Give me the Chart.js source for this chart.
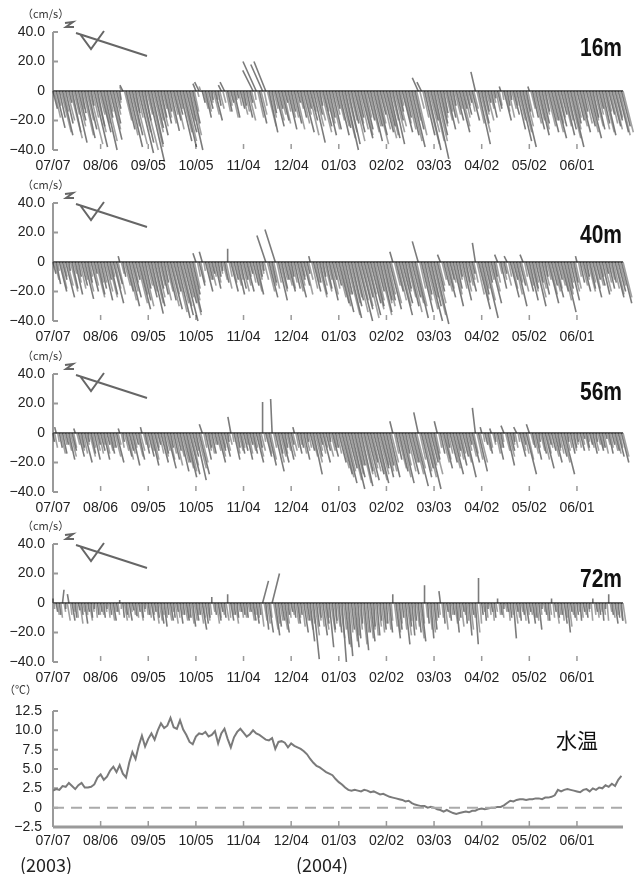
<!DOCTYPE html>
<html>
<head>
<meta charset="utf-8">
<title>流速・水温</title>
<script src="https://cdn.jsdelivr.net/npm/chart.js@4"></script>
<style>
  body { margin: 0; background: #fff; }
  #wrap { position: relative; width: 640px; height: 874px; overflow: hidden; font-family: "Liberation Sans", Arial, sans-serif; color: #222; }
  canvas { position: absolute; left: 0; }
  .unit { position: absolute; left: 22px; font-family: "Noto Sans CJK JP", sans-serif; font-size: 11px; color: #333; }
  .depth { position: absolute; right: 18px; font-size: 25px; font-weight: bold; color: #111; transform: scaleX(0.84); transform-origin: right center; }
  .year { position: absolute; top: 851px; font-family: "Noto Sans CJK JP", sans-serif; font-size: 18px; color: #222; }
</style>
</head>
<body>
<div id="wrap">
  <canvas id="c16" width="640" height="172" style="top:0px"></canvas>
  <canvas id="c40" width="640" height="172" style="top:171px"></canvas>
  <canvas id="c56" width="640" height="172" style="top:342px"></canvas>
  <canvas id="c72" width="640" height="172" style="top:512px"></canvas>
  <canvas id="cT" width="640" height="185" style="top:680px"></canvas>

  <div class="unit" style="top:5px">（cm/s）</div>
  <div class="unit" style="top:176px">（cm/s）</div>
  <div class="unit" style="top:347px">（cm/s）</div>
  <div class="unit" style="top:517px">（cm/s）</div>
  <div class="unit" style="top:681px;left:4px">（℃）</div>

  <div class="depth" style="top:33px">16m</div>
  <div class="depth" style="top:220px">40m</div>
  <div class="depth" style="top:377px">56m</div>
  <div class="depth" style="top:564px">72m</div>
  <div style="position:absolute;left:556px;top:724px;font-family:'Noto Sans CJK JP',sans-serif;font-size:21px;color:#111">水温</div>

  <div class="year" style="left:20px">(2003)</div>
  <div class="year" style="left:296px">(2004)</div>
</div>

<script>
// x軸: 2003/07/07 からの日数
const tickDays = [0, 30, 60, 90, 120, 150, 180, 210, 240, 270, 300, 330];
const tickLabels = ['07/07', '08/06', '09/05', '10/05', '11/04', '12/04', '01/03', '02/02', '03/03', '04/02', '05/02', '06/01'];
const sampleStep = 2; // 各配列は2日おき、*Odd は1日ずらした日

// 16m 流速 (cm/s)  u:横成分 v:縦成分
const u16 = [3,6,4,7,5,2,6,8,5,3,7,6,2,9,5,
  7,9,4,8,5,3,1,-2,6,9,7,3,10,8,4,
  11,8,6,7,4,5,3,6,5,4,8,9,7,9,5,
  -2,-3,2,4,3,1,5,2,-2,-3,3,2,4,1,3,
  2,4,2,-7,-9,5,-8,-8,6,3,6,3,5,2,6,
  3,5,2,4,7,3,5,8,4,2,6,7,4,6,3,
  7,6,9,8,5,7,4,8,6,5,8,6,7,4,7,
  6,7,8,5,3,7,4,7,9,6,-4,-3,7,9,5,
  10,7,5,3,6,4,2,5,7,3,4,2,5,-3,8,
  5,3,2,4,1,3,-1,5,2,1,4,6,8,9,3,
  -1,4,6,7,5,3,7,5,8,6,4,7,6,9,5,
  5,7,3,6,8,4,6,3,5,7,4,6,5,7,6];
const v16 = [-12,-25,-18,-30,-22,-8,-28,-35,-20,-15,-32,-26,-10,-38,-24,
  -28,-40,-18,-33,-22,-12,-6,4,-26,-38,-30,-15,-42,-35,-20,
  -48,-36,-25,-30,-18,-22,-14,-27,-20,-16,-34,-38,-28,-40,-22,
  5,6,-8,-18,-12,-6,-20,-10,4,6,-14,-8,-18,-5,-12,
  -10,-18,-8,14,20,-22,18,20,-28,-15,-24,-12,-20,-8,-26,
  -14,-22,-8,-18,-28,-12,-20,-35,-16,-10,-24,-30,-18,-26,-12,
  -30,-25,-40,-36,-22,-28,-18,-32,-26,-20,-34,-24,-30,-16,-28,
  -24,-32,-36,-20,-14,-28,-18,-30,-38,-26,9,6,-30,-40,-20,
  -46,-30,-22,-15,-26,-18,-10,-20,-28,-12,-16,-8,-20,13,-36,
  -22,-14,-8,-18,-5,-12,3,-20,-10,-6,-16,-26,-34,-38,-14,
  3,-18,-26,-30,-22,-14,-28,-20,-32,-24,-16,-30,-26,-38,-22,
  -20,-28,-14,-24,-32,-18,-26,-12,-22,-30,-16,-24,-20,-28,-24];
const u16Odd = [4,2,7,3,5,8,4,6,3,7,5,9,4,7,4,
  5,8,3,6,4,2,-1,5,7,6,9,4,7,10,4,
  9,7,5,6,3,4,5,4,6,3,7,8,5,7,3,
  1,-1,3,3,2,4,1,3,2,3,2,4,1,2,4,
  3,5,3,1,4,4,2,6,4,3,5,4,5,3,4,
  4,6,3,5,4,7,3,6,5,7,3,5,6,4,5,
  6,8,7,5,8,5,6,7,4,7,6,9,5,6,8,
  7,5,7,6,2,5,6,8,5,7,3,4,9,7,8,
  8,6,4,5,3,5,4,3,6,4,2,3,3,5,7,
  4,5,3,2,3,2,1,3,4,3,2,5,7,6,4,
  3,5,5,6,4,6,5,7,5,4,6,5,8,6,4,
  6,4,5,7,5,6,4,6,7,3,5,6,4,7,7];
const v16Odd = [-18,-10,-28,-14,-20,-32,-16,-24,-12,-30,-20,-36,-18,-28,-16,
  -22,-34,-14,-26,-16,-8,3,-20,-30,-24,-36,-18,-28,-40,-16,
  -38,-28,-20,-24,-12,-18,-22,-16,-26,-12,-28,-34,-20,-30,-14,
  -4,3,-12,-14,-8,-16,-6,-12,-8,-14,-10,-18,-6,-10,-16,
  -14,-20,-12,-6,-18,-16,-10,-24,-18,-12,-20,-16,-22,-14,-18,
  -18,-26,-12,-22,-16,-30,-14,-24,-20,-28,-14,-22,-26,-16,-20,
  -24,-32,-28,-20,-34,-22,-26,-30,-18,-28,-24,-36,-22,-26,-32,
  -30,-20,-28,-24,-10,-22,-26,-34,-20,-30,-12,-18,-36,-28,-34,
  -34,-24,-18,-20,-14,-22,-16,-12,-24,-18,-10,-14,-12,-22,-28,
  -16,-20,-12,-8,-14,-10,-6,-14,-18,-12,-10,-20,-28,-24,-18,
  -12,-22,-20,-26,-16,-24,-20,-28,-22,-18,-24,-20,-32,-26,-18,
  -24,-18,-22,-28,-20,-24,-16,-26,-28,-14,-22,-26,-18,-30,-28];

// 40m
const u40 = [2,3,5,3,6,1,4,5,2,4,6,3,5,2,5,
  4,6,3,5,7,4,-1,2,5,7,6,3,8,6,4,
  6,8,7,4,5,3,6,8,5,9,9,10,7,8,5,
  -2,4,-2,5,3,2,4,2,1,3,0,5,3,5,4,
  3,5,2,4,5,2,1,-6,6,3,-7,6,4,3,5,
  2,4,6,3,4,2,-1,5,3,5,2,4,6,3,4,
  7,8,5,9,7,6,10,8,6,9,7,7,5,8,6,
  6,8,-2,5,9,7,4,7,6,9,-4,8,5,10,7,
  10,5,-2,4,6,3,7,4,2,6,3,5,2,-2,8,
  5,9,3,7,2,-2,4,2,-2,6,3,7,4,-2,5,
  6,4,7,3,5,2,7,4,6,3,5,8,4,6,3,
  -1,3,5,2,4,6,3,4,5,2,4,3,6,5,7];
const v40 = [-8,-15,-20,-12,-24,-6,-18,-22,-10,-16,-25,-14,-20,-8,-22,
  -18,-26,-12,-22,-28,-15,4,-10,-20,-30,-24,-12,-32,-26,-18,
  -24,-35,-30,-18,-22,-14,-26,-32,-20,-38,-36,-40,-28,-34,-22,
  6,-16,7,-20,-12,-8,-18,-10,-6,-14,9,-20,-12,-22,-18,
  -12,-20,-8,-16,-22,-10,-6,18,-24,-14,22,-26,-18,-12,-20,
  -10,-18,-24,-12,-16,-8,4,-20,-14,-22,-10,-18,-26,-12,-16,
  -28,-34,-22,-38,-30,-26,-40,-32,-24,-36,-28,-30,-20,-34,-26,
  -26,-32,7,-20,-36,-28,-18,-30,-24,-38,14,-34,-22,-40,-30,
  -42,-20,5,-16,-24,-12,-30,-18,-10,-26,-14,-20,-8,13,-32,
  -22,-38,-14,-28,-10,5,-18,-8,4,-24,-12,-30,-16,5,-20,
  -26,-18,-30,-14,-22,-10,-28,-16,-24,-12,-20,-34,-18,-26,-14,
  4,-14,-20,-10,-18,-24,-12,-16,-22,-8,-18,-14,-24,-20,-28];
const u40Odd = [3,1,4,2,4,5,2,3,4,3,5,2,4,6,3,
  3,5,6,2,4,5,2,4,6,5,3,7,5,7,4,
  5,7,6,4,6,5,7,5,8,7,7,6,9,6,4,
  2,3,1,3,4,2,3,2,3,4,2,3,4,3,5,
  4,2,3,5,3,2,3,5,4,4,3,5,3,4,4,
  3,5,4,2,5,3,4,3,6,4,5,3,5,4,6,
  7,5,9,7,6,8,6,7,9,5,8,6,9,7,7,
  5,7,4,6,7,5,6,8,7,7,4,6,8,6,9,
  7,4,3,5,4,3,5,3,4,5,4,3,3,5,6,
  4,6,3,5,3,2,3,4,2,4,5,3,5,2,4,
  5,3,6,4,4,3,5,5,4,4,6,5,3,5,4,
  2,4,3,5,3,4,4,2,5,3,3,4,5,4,6];
const v40Odd = [-12,-6,-18,-10,-16,-20,-8,-14,-18,-12,-20,-10,-16,-24,-14,
  -14,-20,-24,-10,-18,-22,-8,-16,-26,-20,-14,-28,-22,-30,-16,
  -20,-28,-24,-16,-26,-20,-30,-22,-34,-28,-30,-24,-36,-26,-18,
  -10,-14,-6,-12,-16,-10,-14,-8,-12,-18,-10,-14,-16,-12,-20,
  -16,-10,-14,-20,-12,-8,-12,-20,-16,-18,-14,-20,-12,-16,-18,
  -14,-20,-16,-10,-22,-12,-18,-14,-24,-16,-20,-12,-22,-18,-24,
  -30,-22,-36,-28,-24,-34,-26,-30,-38,-22,-32,-26,-36,-28,-30,
  -22,-28,-16,-26,-30,-20,-24,-34,-28,-30,-18,-26,-32,-24,-36,
  -28,-16,-12,-20,-18,-14,-22,-12,-18,-20,-16,-12,-14,-22,-26,
  -18,-26,-12,-20,-14,-8,-12,-16,-10,-18,-22,-14,-20,-10,-16,
  -20,-14,-24,-18,-16,-12,-22,-20,-18,-16,-26,-22,-14,-20,-18,
  -10,-16,-12,-20,-14,-18,-16,-10,-20,-14,-12,-18,-22,-16,-24];

// 56m
const u56 = [1,-1,2,3,2,4,3,-1,4,2,5,1,3,4,2,
  3,4,2,3,2,5,-1,1,4,3,5,2,4,-1,3,
  4,5,3,2,5,3,6,2,4,3,6,5,7,7,4,
  7,7,-2,4,2,3,2,5,3,4,1,-2,4,2,3,
  3,4,2,3,5,2,0,4,5,-1,6,3,5,2,4,
  2,-1,3,2,4,1,3,6,4,2,5,3,1,4,2,
  5,7,8,6,9,7,5,8,6,8,5,7,8,6,7,
  5,7,-2,4,6,8,3,7,5,9,-3,7,6,9,5,
  4,-2,3,6,2,5,7,3,5,4,7,2,5,-2,6,
  -1,2,3,-1,1,4,2,-2,5,3,1,-2,4,2,7,
  -2,2,4,1,3,6,2,3,5,2,4,7,1,3,2,
  1,3,1,2,2,3,1,3,2,1,3,2,3,4,5];
const v56 = [-6,4,-10,-14,-8,-18,-12,3,-16,-10,-20,-6,-14,-18,-8,
  -12,-18,-8,-14,-10,-20,3,-6,-16,-12,-22,-8,-18,4,-14,
  -16,-22,-12,-8,-20,-14,-24,-10,-18,-12,-26,-20,-30,-28,-16,
  -32,-28,6,-18,-10,-14,-8,-20,-12,-16,-6,11,-18,-10,-14,
  -12,-18,-8,-14,-20,-10,21,-16,-22,23,-26,-14,-20,-10,-18,
  -8,4,-14,-10,-18,-6,-12,-28,-16,-8,-20,-12,-6,-16,-10,
  -20,-28,-34,-24,-38,-30,-22,-36,-26,-32,-20,-28,-34,-24,-30,
  -22,-30,8,-18,-26,-34,-14,-28,-20,-36,14,-30,-24,-38,-20,
  -18,8,-14,-24,-10,-20,-28,-12,-22,-16,-30,-8,-20,17,-26,
  4,-8,-14,3,-6,-18,-10,5,-22,-12,-6,4,-16,-8,-28,
  6,-10,-18,-6,-14,-24,-8,-12,-20,-10,-16,-28,-6,-14,-10,
  -6,-12,-4,-10,-8,-14,-6,-12,-10,-4,-14,-8,-12,-16,-20];
const u56Odd = [2,1,3,2,3,4,2,2,3,3,2,4,2,3,3,
  2,3,3,2,4,2,2,3,4,3,2,4,3,2,2,
  3,4,2,3,4,3,4,3,5,4,5,6,6,5,3,
  6,5,2,3,3,2,3,4,2,3,2,1,3,3,2,
  2,3,3,2,4,3,1,3,4,2,5,4,3,3,4,
  3,2,2,3,3,2,4,5,3,3,2,4,3,2,3,
  6,7,6,8,7,5,8,7,7,6,6,8,7,5,6,
  6,5,3,6,7,5,6,5,7,6,4,6,7,5,7,
  3,2,5,4,3,6,4,4,3,5,3,4,3,4,5,
  1,3,2,2,3,2,1,3,4,2,2,1,3,3,4,
  2,3,2,3,4,3,2,4,3,3,5,3,2,3,2,
  2,2,3,1,2,3,2,2,3,2,2,3,3,2,4];
const v56Odd = [-10,-6,-14,-8,-12,-16,-10,-8,-12,-14,-8,-16,-10,-12,-14,
  -8,-14,-12,-10,-16,-8,-10,-12,-18,-14,-10,-16,-12,-8,-10,
  -12,-18,-10,-14,-16,-12,-18,-14,-22,-16,-20,-24,-26,-22,-12,
  -24,-20,-10,-12,-14,-8,-12,-16,-10,-12,-8,-6,-14,-12,-10,
  -8,-14,-12,-10,-16,-12,-6,-14,-18,-10,-20,-16,-14,-12,-16,
  -12,-10,-8,-14,-12,-10,-16,-20,-12,-14,-10,-16,-12,-10,-14,
  -24,-30,-26,-32,-28,-22,-34,-28,-30,-24,-26,-32,-28,-22,-26,
  -26,-20,-14,-24,-30,-22,-26,-20,-28,-24,-18,-26,-30,-22,-28,
  -14,-10,-20,-18,-14,-24,-16,-18,-14,-20,-12,-16,-14,-18,-20,
  -6,-12,-10,-8,-14,-10,-6,-12,-16,-8,-10,-6,-12,-14,-18,
  -8,-14,-10,-12,-18,-14,-10,-16,-12,-14,-20,-12,-10,-12,-8,
  -10,-8,-12,-6,-10,-12,-8,-10,-14,-8,-10,-12,-14,-10,-16];

// 72m
const u72 = [0,1,1,1,0,-1,2,1,1,1,2,1,1,0,1,
  1,1,0,1,2,1,0,1,1,2,1,1,1,1,0,
  1,2,1,1,2,2,1,2,1,1,2,1,2,1,2,
  2,1,3,2,1,0,1,2,1,1,0,2,1,1,1,
  1,1,1,2,2,1,4,2,3,5,3,2,2,3,1,
  1,1,2,1,3,2,3,4,2,1,3,2,3,2,1,
  2,3,3,3,2,3,2,1,3,2,3,1,2,1,2,
  1,2,0,3,2,1,3,2,2,1,2,3,0,1,2,
  2,1,-1,1,1,1,1,2,1,1,1,2,1,2,0,
  1,1,0,1,1,0,1,0,1,1,2,1,1,1,2,
  1,2,1,2,0,1,1,0,1,1,1,2,2,1,1,
  1,1,1,1,0,0,1,1,1,0,0,1,2,1,1];
const v72 = [3,-6,-8,9,-4,6,-12,-10,-5,-8,-14,-6,-10,-4,-8,
  -6,-10,-4,-8,-12,-6,2,-10,-8,-12,-5,-9,-6,-10,-4,
  -8,-12,-6,-10,-14,-16,-8,-12,-10,-6,-14,-8,-12,-10,-16,
  -12,-8,-18,-14,-10,4,-8,-12,-6,-10,6,-12,-8,-10,-6,
  -8,-10,-6,-12,-14,-8,15,-18,-20,20,-22,-16,-12,-20,-8,
  -6,-10,-14,-8,-20,-12,-26,-38,-16,-10,-22,-14,-30,-18,-12,
  -20,-40,-28,-36,-18,-30,-24,-14,-32,-20,-26,-16,-22,-12,-18,
  -14,-20,6,-24,-18,-10,-28,-16,-22,-12,-20,-26,12,-14,-24,
  -18,-10,8,-14,-6,-12,-8,-20,-10,-6,-14,-22,-8,-28,17,
  -8,-12,-4,-6,-10,3,-8,-4,-6,-10,-24,-6,-12,-8,-14,
  -6,-14,-10,-18,-4,-8,-12,3,-6,-10,-8,-14,-20,-6,-10,
  -8,-12,-6,-10,-4,3,-6,-8,-12,-4,6,-8,-14,-10,-12];
const u72Odd = [0,1,1,1,2,1,1,1,2,1,1,2,1,1,1,
  1,1,1,2,1,1,0,2,1,1,1,1,2,1,1,
  1,1,2,2,1,1,2,1,2,1,1,2,1,2,2,
  1,2,1,2,1,1,2,1,1,2,1,1,2,1,1,
  1,1,2,1,1,2,2,2,1,3,2,2,3,2,1,
  1,2,1,2,2,3,2,3,2,2,3,1,3,2,2,
  3,2,3,2,3,2,2,3,2,3,2,2,2,2,1,
  2,1,2,2,1,2,3,1,2,2,3,1,1,2,2,
  1,1,1,2,1,1,2,1,2,1,1,2,1,2,1,
  1,1,1,1,1,1,1,1,1,1,2,1,1,1,1,
  1,1,1,1,1,1,1,1,2,1,1,1,2,1,1,
  1,1,1,1,1,1,1,1,1,1,1,1,1,2,2];
const v72Odd = [-4,-8,-10,-6,-12,-8,-6,-10,-14,-6,-8,-12,-6,-10,-8,
  -8,-6,-10,-12,-6,-8,-4,-12,-10,-6,-8,-10,-12,-6,-8,
  -10,-8,-14,-12,-8,-10,-12,-6,-14,-10,-8,-12,-10,-14,-12,
  -8,-14,-10,-12,-8,-6,-14,-10,-8,-12,-10,-8,-14,-6,-10,
  -10,-6,-12,-8,-10,-16,-12,-14,-10,-18,-14,-12,-18,-14,-10,
  -8,-14,-10,-16,-12,-18,-14,-22,-12,-16,-18,-10,-20,-14,-16,
  -24,-18,-30,-20,-26,-22,-18,-28,-20,-24,-18,-22,-16,-20,-14,
  -18,-12,-16,-20,-14,-18,-22,-12,-18,-16,-24,-14,-10,-18,-20,
  -12,-8,-10,-18,-10,-8,-14,-12,-16,-8,-12,-18,-10,-20,-14,
  -6,-10,-8,-12,-6,-8,-10,-6,-12,-8,-14,-10,-6,-12,-8,
  -8,-10,-12,-8,-6,-12,-8,-10,-14,-8,-12,-10,-16,-8,-12,
  -6,-10,-8,-6,-12,-8,-10,-6,-8,-12,-6,-10,-8,-12,-14];

// 水温 (℃)
const waterTemp = [2.2,2.4,2.3,2.8,2.7,3.2,2.8,2.4,2.9,3.2,2.6,2.6,2.7,3.0,3.9,
  4.3,3.6,4.0,4.8,5.3,4.6,5.5,4.4,3.9,5.8,7.2,6.3,8.0,9.3,7.9,
  8.9,9.6,8.8,10.0,10.9,10.3,10.6,11.6,10.4,10.2,11.3,10.1,9.4,8.5,8.2,
  9.2,9.6,9.5,9.8,9.2,9.4,9.9,8.3,9.6,10.2,8.9,7.8,9.1,9.8,10.2,
  9.7,9.2,9.5,10.0,9.6,9.4,9.1,8.8,8.7,9.0,7.6,8.5,8.6,8.4,7.8,
  8.3,8.0,7.8,7.6,7.3,6.9,6.3,5.8,5.4,5.2,4.9,4.6,4.4,4.2,3.7,
  3.3,3.0,2.6,2.3,2.2,2.3,2.2,2.1,2.3,2.2,2.0,2.1,1.9,1.7,1.8,
  1.6,1.4,1.3,1.2,1.1,1.0,0.8,0.9,0.6,0.4,0.3,0.2,0.2,0.0,0.1,
  0.0,-0.2,-0.3,-0.5,-0.3,-0.5,-0.7,-0.8,-0.7,-0.6,-0.5,-0.6,-0.4,-0.4,-0.2,
  -0.1,-0.2,-0.1,0.0,0.0,0.1,0.1,0.3,0.6,0.9,0.8,1.0,1.1,1.1,1.0,
  1.1,1.1,1.2,1.2,1.1,1.3,1.3,1.4,1.6,2.3,2.1,2.3,2.4,2.3,2.2,
  2.1,2.0,2.3,2.4,2.1,2.5,2.3,2.6,2.5,2.9,2.7,3.1,2.8,3.6,4.1];

const X_MAX = 359;
const FONT = "'Liberation Sans', Arial, sans-serif";
const AXIS_GRAY = '#9a9a9a';

// 軸線・目盛り(内向き)・北向き記号
const axisDecor = {
  id: 'axisDecor',
  beforeDatasetsDraw(chart, args, opts) {
    const { ctx, chartArea: a, scales: { x, y } } = chart;
    ctx.save();
    ctx.strokeStyle = AXIS_GRAY;
    ctx.lineWidth = 2;
    ctx.beginPath();
    ctx.moveTo(a.left, a.top);
    ctx.lineTo(a.left, a.bottom);
    y.ticks.forEach(t => {
      const py = y.getPixelForValue(t.value);
      ctx.moveTo(a.left, py);
      ctx.lineTo(a.left + 5, py);
    });
    ctx.stroke();
    if (opts.bottomLine) {
      ctx.lineWidth = 3;
      ctx.beginPath();
      ctx.moveTo(a.left, a.bottom);
      ctx.lineTo(a.right, a.bottom);
      ctx.stroke();
    }
    ctx.lineWidth = 1.5;
    ctx.beginPath();
    x.ticks.forEach(t => {
      if (t.value === 0) return;
      const px = x.getPixelForValue(t.value);
      ctx.moveTo(px, a.bottom - 6);
      ctx.lineTo(px, a.bottom - 1);
    });
    ctx.stroke();
    ctx.restore();
  },
  afterDraw(chart, args, opts) {
    if (!opts.north) return;
    const { ctx, chartArea: a } = chart;
    const L = a.left, T = a.top;
    ctx.save();
    ctx.strokeStyle = '#666';
    ctx.lineWidth = 2;
    ctx.beginPath();
    ctx.moveTo(L + 12, T - 9); ctx.lineTo(L + 20, T - 10);
    ctx.lineTo(L + 13, T - 5); ctx.lineTo(L + 21, T - 5);
    ctx.moveTo(L + 23, T + 1); ctx.lineTo(L + 94, T + 24);
    ctx.moveTo(L + 27, T + 2); ctx.lineTo(L + 38, T + 17); ctx.lineTo(L + 51, T - 1);
    ctx.stroke();
    ctx.restore();
  }
};

function xScale(height, pad) {
  return {
    type: 'linear', min: 0, max: X_MAX,
    grid: { display: false, drawTicks: false },
    border: { display: false },
    afterBuildTicks: s => { s.ticks = tickDays.map(v => ({ value: v })); },
    afterFit: s => { s.height = height; },
    ticks: {
      autoSkip: false, maxRotation: 0, padding: pad, color: '#222',
      font: { family: FONT, size: 14 },
      callback: v => tickLabels[tickDays.indexOf(v)]
    }
  };
}

function yLabel(val) {
  return val === 0 ? '0' : (val < 0 ? '−' : '') + Math.abs(val).toFixed(1);
}

function stickChart(id, u, v, uOdd, vOdd) {
  const canvas = document.getElementById(id);
  const areaH = 118, areaW = 570;
  // 横方向も縦と同じ cm/s スケールで描く
  const daysPerCm = (areaH / 80) / (areaW / X_MAX);
  const toSticks = (uu, vv, offset) => {
    const pts = [];
    vv.forEach((val, i) => {
      const d = i * sampleStep + offset;
      pts.push({ x: d, y: 0 });
      pts.push({ x: d + uu[i] * daysPerCm, y: val });
      pts.push({ x: d, y: null });
    });
    return pts;
  };
  const stickStyle = { borderWidth: 1.6, pointRadius: 0, spanGaps: false, clip: false, tension: 0, borderCapStyle: 'butt' };
  return new Chart(canvas, {
    type: 'line',
    data: {
      datasets: [
        Object.assign({ data: toSticks(uOdd, vOdd, 1), borderColor: 'rgba(110,110,110,0.65)' }, stickStyle),
        Object.assign({ data: toSticks(u, v, 0), borderColor: 'rgba(35,35,35,0.6)' }, stickStyle),
        { data: [{ x: 0, y: 0 }, { x: X_MAX, y: 0 }], borderColor: '#666', borderWidth: 2, pointRadius: 0, clip: false }
      ]
    },
    options: {
      responsive: false, animation: false, events: [],
      layout: { padding: { top: 32, right: 17, left: 0, bottom: 0 } },
      plugins: { legend: { display: false }, tooltip: { enabled: false }, axisDecor: { north: true } },
      scales: {
        x: xScale(22, 8),
        y: {
          min: -40, max: 40,
          grid: { display: false, drawTicks: false },
          border: { display: false },
          afterFit: s => { s.width = 53; },
          ticks: {
            stepSize: 20, padding: 8, color: '#222', autoSkip: false,
            font: { family: FONT, size: 14 },
            callback: yLabel
          }
        }
      }
    },
    plugins: [axisDecor]
  });
}

stickChart('c16', u16, v16, u16Odd, v16Odd);
stickChart('c40', u40, v40, u40Odd, v40Odd);
stickChart('c56', u56, v56, u56Odd, v56Odd);
stickChart('c72', u72, v72, u72Odd, v72Odd);

new Chart(document.getElementById('cT'), {
  type: 'line',
  data: {
    datasets: [
      { data: [{ x: 0, y: 0 }, { x: X_MAX, y: 0 }], borderColor: '#aaa', borderWidth: 2, borderDash: [11, 7], pointRadius: 0 },
      { data: waterTemp.map((t, i) => ({ x: i * sampleStep, y: t })), borderColor: '#7a7a7a', borderWidth: 2, pointRadius: 0, tension: 0 }
    ]
  },
  options: {
    responsive: false, animation: false, events: [],
    layout: { padding: { top: 31, right: 17, left: 0, bottom: 0 } },
    plugins: { legend: { display: false }, tooltip: { enabled: false }, axisDecor: { bottomLine: true } },
    scales: {
      x: xScale(38, 6),
      y: {
        min: -2.5, max: 12.5,
        grid: { display: false, drawTicks: false },
        border: { display: false },
        afterFit: s => { s.width = 53; },
        afterBuildTicks: s => { s.ticks = [12.5, 10, 7.5, 5, 2.5, 0, -2.5].map(v => ({ value: v })); },
        ticks: {
          padding: 11, color: '#222', autoSkip: false,
          font: { family: FONT, size: 14 },
          callback: yLabel
        }
      }
    }
  },
  plugins: [axisDecor]
});
</script>
</body>
</html>
